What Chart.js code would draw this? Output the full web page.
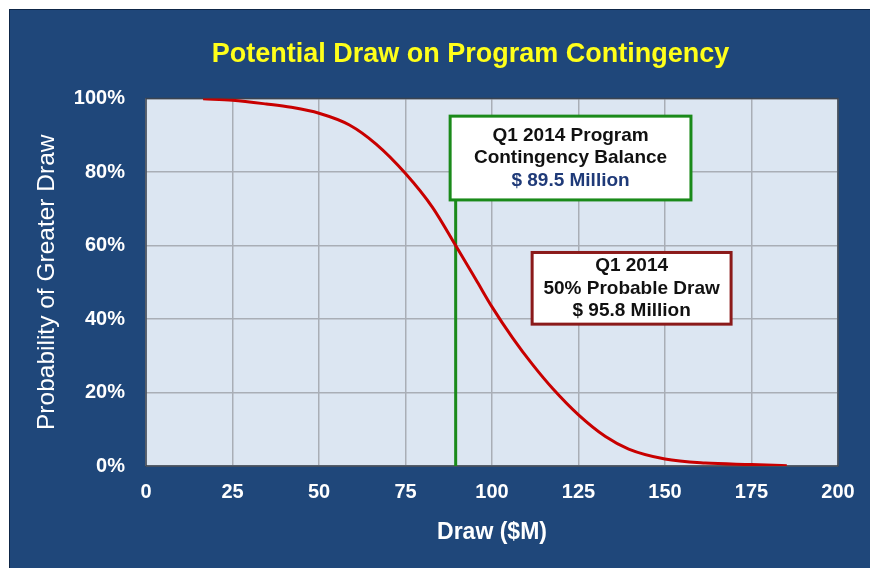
<!DOCTYPE html>
<html>
<head>
<meta charset="utf-8">
<title>Potential Draw on Program Contingency</title>
<script src="https://cdn.jsdelivr.net/npm/chart.js@4.4.1/dist/chart.umd.min.js"></script>
<style>
  html, body { margin:0; padding:0; background:#fff; }
  body { width:870px; height:568px; position:relative; overflow:hidden; }
  #panel { position:absolute; left:9px; top:9px; width:861px; height:570px;
           background:#1f477a; border-left:1px solid #0e2647; border-top:1px solid #0e2647; }
  #chart { position:absolute; left:0; top:0; }
</style>
</head>
<body>
<div id="panel"></div>
<canvas id="chart" width="870" height="568"></canvas>
<script>
const drawM       = [16.5, 25, 34.8, 42, 50, 58.8, 66.5, 75, 82.8, 89.5, 95.8, 100, 106, 111.8, 117.6, 125, 132.8, 139.5, 150, 161.6, 175, 185.2];
const probGreater = [99.9, 99.5, 98.5, 97.6, 96.0, 92.8, 87.6, 79.6, 70.4, 60, 50, 43.3, 34.8, 27.5, 21.0, 13.9, 8.0, 4.6, 1.9, 0.8, 0.4, 0.1];

// contingency balance marker ($M) and how far up it runs (%)
const balanceX = [89.5, 89.5];
const balanceY = [0, 72.4];

const noteBalance = ["Q1 2014 Program", "Contingency Balance", "$ 89.5 Million"];
const noteMedian  = ["Q1 2014", "50% Probable Draw", "$ 95.8 Million"];

const FONT = "'Liberation Sans', Arial, Helvetica, sans-serif";
Chart.defaults.font.family = FONT;

// note boxes, placed in data units
const notes = [
  { lines: noteBalance, colors: ["#111", "#111", "#1f3a78"], border: "#1a8a1a",
    x0: 87.9, x1: 157.5, y0: 95.2, y1: 72.4 },
  { lines: noteMedian, colors: ["#111", "#111", "#111"], border: "#8b1a1a",
    x0: 111.6, x1: 169.1, y0: 58.1, y1: 38.6 }
];

const plotFrame = {
  id: "plotFrame",
  afterLayout(chart){
    // the slide's title sits a bit left of the plot centre
    if (chart.titleBlock) chart.titleBlock.left = 103;
  },
  beforeDraw(chart){
    const { ctx, chartArea: a } = chart;
    ctx.save();
    ctx.fillStyle = "#dce6f2";
    ctx.fillRect(a.left, a.top, a.width, a.height);
    ctx.restore();
  },
  beforeDatasetsDraw(chart){
    const { ctx, chartArea: a } = chart;
    ctx.save();
    ctx.strokeStyle = "#3a4350";
    ctx.lineWidth = 1.5;
    ctx.strokeRect(a.left, a.top, a.width, a.height);
    ctx.restore();
  },
  afterDatasetsDraw(chart){
    const { ctx } = chart;
    const x = chart.scales.x, y = chart.scales.y;
    ctx.save();
    for (const n of notes){
      const l = x.getPixelForValue(n.x0), r = x.getPixelForValue(n.x1);
      const t = y.getPixelForValue(n.y0), b = y.getPixelForValue(n.y1);
      ctx.fillStyle = "#fff";
      ctx.fillRect(l, t, r - l, b - t);
      ctx.lineWidth = 3;
      ctx.strokeStyle = n.border;
      ctx.strokeRect(l, t, r - l, b - t);

      ctx.font = "bold 19px " + FONT;
      ctx.textAlign = "center";
      ctx.textBaseline = "middle";
      const lh = 22.5;
      const cx = (l + r) / 2;
      const cy = (t + b) / 2 - lh * (n.lines.length - 1) / 2;
      n.lines.forEach((s, i) => {
        ctx.fillStyle = n.colors[i];
        ctx.fillText(s, cx, cy + i * lh);
      });
    }
    ctx.restore();
  }
};

const gridStyle = { color: "#a9aeb6", lineWidth: 1.5, drawTicks: false };
const tickFont = { size: 20, weight: "bold" };

new Chart(document.getElementById("chart"), {
  type: "scatter",
  data: {
    datasets: [
      {
        label: "Probability of greater draw",
        data: drawM.map((v, i) => ({ x: v, y: probGreater[i] })),
        showLine: true,
        borderColor: "#c80000",
        borderWidth: 3,
        pointRadius: 0,
        cubicInterpolationMode: "monotone"
      },
      {
        label: "Contingency balance",
        data: balanceX.map((v, i) => ({ x: v, y: balanceY[i] })),
        showLine: true,
        borderColor: "#1a8a1a",
        borderWidth: 3,
        pointRadius: 0
      }
    ]
  },
  options: {
    responsive: false,
    animation: false,
    events: [],
    layout: { padding: { top: 9, left: 0, right: 32, bottom: 0 } },
    plugins: {
      legend: { display: false },
      tooltip: { enabled: false },
      title: {
        display: true,
        text: "Potential Draw on Program Contingency",
        color: "#ffff1a",
        font: { size: 27, weight: "bold" },
        padding: { top: 29.5, bottom: 27.6 }
      }
    },
    scales: {
      x: {
        type: "linear",
        min: 0, max: 200,
        grid: gridStyle,
        border: { display: false },
        ticks: { stepSize: 25, color: "#fff", font: tickFont, padding: 14, maxRotation: 0 },
        title: {
          display: true, text: "Draw ($M)", color: "#fff",
          font: { size: 23, weight: "bold" },
          padding: { top: 0, bottom: 22 }
        },
        afterFit(s){ s.height = 102; }
      },
      y: {
        min: 0, max: 100,
        grid: gridStyle,
        border: { display: false },
        ticks: { stepSize: 20, color: "#fff", font: tickFont, padding: 21, callback: v => v + "%" },
        title: {
          display: true, text: "Probability of Greater Draw", color: "#fff",
          font: { size: 24.5, weight: "normal" },
          padding: { top: 32.3, bottom: 0 }
        },
        afterFit(s){ s.width = 146; }
      }
    }
  },
  plugins: [plotFrame]
});
</script>
</body>
</html>
